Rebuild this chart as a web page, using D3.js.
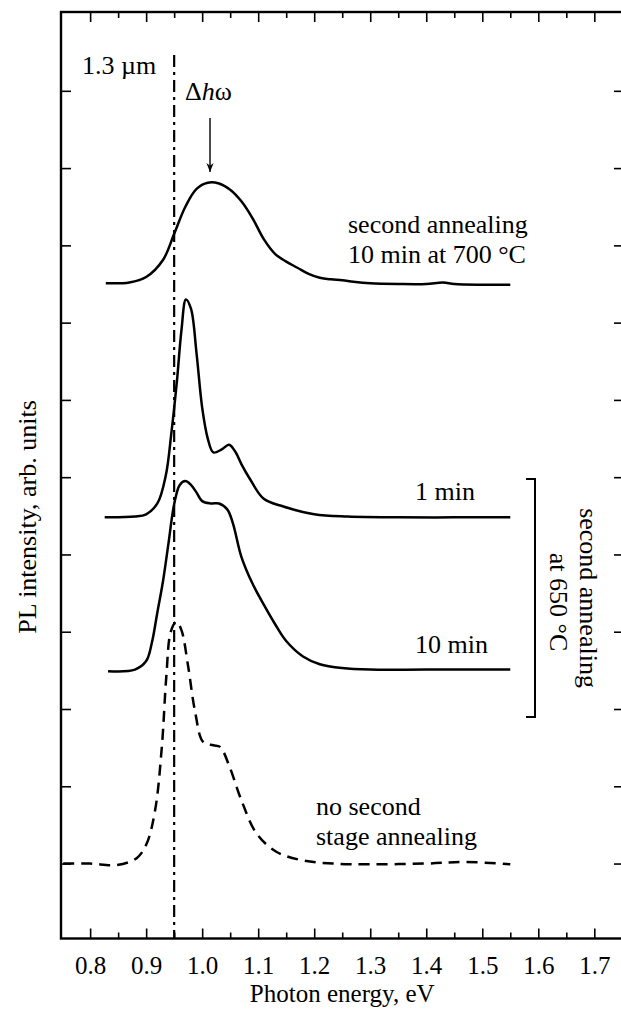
<!DOCTYPE html>
<html>
<head>
<meta charset="utf-8">
<script src="https://cdn.jsdelivr.net/npm/d3@7"></script>
<style>
  body { margin: 0; background: #fff; }
  svg { display: block; }
  text { font-family: "Liberation Serif", "Times New Roman", serif; fill: #000; }
</style>
</head>
<body>
<div id="chart"></div>
<script>
// photon energy (eV) / PL intensity (arb. units, curves are offset by the chart itself)
const anneal700E = [0.828, 0.87, 0.90, 0.93, 0.95, 0.97, 0.99, 1.01, 1.03, 1.05, 1.07, 1.09, 1.11, 1.13, 1.15, 1.17, 1.19, 1.21, 1.23, 1.25, 1.27, 1.30, 1.35, 1.40, 1.43, 1.45, 1.50, 1.55];
const anneal700I = [8.51, 8.52, 8.59, 8.81, 9.15, 9.50, 9.73, 9.81, 9.80, 9.72, 9.57, 9.35, 9.08, 8.89, 8.79, 8.71, 8.63, 8.58, 8.56, 8.55, 8.53, 8.51, 8.50, 8.50, 8.52, 8.50, 8.49, 8.49];

const oneMinE = [0.826, 0.88, 0.90, 0.92, 0.935, 0.945, 0.955, 0.963, 0.971, 0.98, 0.99, 1.00, 1.01, 1.02, 1.035, 1.048, 1.06, 1.07, 1.085, 1.11, 1.145, 1.20, 1.26, 1.35, 1.45, 1.55];
const oneMinI = [5.48, 5.49, 5.52, 5.66, 6.02, 6.57, 7.25, 7.90, 8.30, 8.18, 7.60, 6.90, 6.50, 6.32, 6.36, 6.42, 6.32, 6.17, 5.98, 5.72, 5.62, 5.52, 5.49, 5.48, 5.48, 5.48];

const tenMinE = [0.832, 0.88, 0.90, 0.91, 0.92, 0.93, 0.94, 0.95, 0.96, 0.97, 0.98, 0.99, 1.00, 1.015, 1.03, 1.045, 1.055, 1.07, 1.09, 1.11, 1.13, 1.15, 1.18, 1.21, 1.25, 1.30, 1.40, 1.55];
const tenMinI = [3.49, 3.51, 3.62, 3.85, 4.25, 4.65, 5.15, 5.65, 5.90, 5.95, 5.90, 5.80, 5.69, 5.66, 5.66, 5.58, 5.40, 4.97, 4.62, 4.35, 4.10, 3.88, 3.68, 3.58, 3.53, 3.51, 3.51, 3.51];

const noSecondE = [0.752, 0.80, 0.847, 0.883, 0.901, 0.916, 0.928, 0.936, 0.944, 0.954, 0.963, 0.975, 0.987, 1.002, 1.02, 1.032, 1.049, 1.07, 1.097, 1.133, 1.18, 1.234, 1.30, 1.40, 1.47, 1.55];
const noSecondI = [1.00, 1.00, 0.98, 1.07, 1.26, 1.69, 2.51, 3.42, 4.00, 4.13, 4.02, 3.55, 2.98, 2.57, 2.53, 2.51, 2.25, 1.82, 1.39, 1.15, 1.04, 1.00, 0.99, 1.00, 1.02, 0.99];

const xTicks = [0.8, 0.9, 1.0, 1.1, 1.2, 1.3, 1.4, 1.5, 1.6, 1.7];
const xMinorTicks = [0.85, 0.95, 1.05, 1.15, 1.25, 1.35, 1.45, 1.55, 1.65];
const yTicks = [1, 2, 3, 4, 5, 6, 7, 8, 9, 10, 11];
const lineEnergy = 0.95; // 1.3 um

const width = 621, height = 1011;
const frame = { left: 61, right: 624, top: 12, bottom: 938.5 };

const x = d3.scaleLinear().domain([0.748, 1.753]).range([frame.left, frame.right]);
const y = d3.scaleLinear().domain([0.03, 12.02]).range([frame.bottom, frame.top]);

const svg = d3.select('#chart').append('svg')
  .attr('width', width)
  .attr('height', height);

// axes, ticks pointing inward
const tickStyle = g => {
  g.select('.domain').remove();
  g.selectAll('line').attr('stroke', '#000').attr('stroke-width', 1.6);
};

svg.append('g')
  .attr('transform', `translate(0,${frame.bottom})`)
  .call(d3.axisBottom(x).tickValues(xTicks).tickSizeInner(-10).tickSizeOuter(0).tickPadding(18).tickFormat(d3.format('.1f')))
  .call(tickStyle)
  .call(g => g.selectAll('text').attr('font-size', 25).attr('dy', '0.71em'));

svg.append('g')
  .attr('transform', `translate(0,${frame.bottom})`)
  .call(d3.axisBottom(x).tickValues(xMinorTicks).tickSizeInner(-6).tickSizeOuter(0).tickFormat(''))
  .call(tickStyle);

svg.append('g')
  .attr('transform', `translate(0,${frame.top})`)
  .call(d3.axisTop(x).tickValues(xTicks).tickSizeInner(-10).tickSizeOuter(0).tickFormat(''))
  .call(tickStyle);

svg.append('g')
  .attr('transform', `translate(0,${frame.top})`)
  .call(d3.axisTop(x).tickValues(xMinorTicks).tickSizeInner(-6).tickSizeOuter(0).tickFormat(''))
  .call(tickStyle);

svg.append('g')
  .attr('transform', `translate(${frame.left},0)`)
  .call(d3.axisLeft(y).tickValues(yTicks).tickSizeInner(-10).tickSizeOuter(0).tickFormat(''))
  .call(tickStyle);

svg.append('g')
  .attr('transform', `translate(${frame.right},0)`)
  .call(d3.axisRight(y).tickValues(yTicks).tickSizeInner(-10).tickSizeOuter(0).tickFormat(''))
  .call(tickStyle);

// frame
svg.append('rect')
  .attr('x', frame.left)
  .attr('y', frame.top)
  .attr('width', frame.right - frame.left)
  .attr('height', frame.bottom - frame.top)
  .attr('fill', 'none')
  .attr('stroke', '#000')
  .attr('stroke-width', 2.4);

// 1.3 um marker
svg.append('line')
  .attr('x1', x(lineEnergy)).attr('x2', x(lineEnergy))
  .attr('y1', 55).attr('y2', frame.bottom)
  .attr('stroke', '#000')
  .attr('stroke-width', 2.2)
  .attr('stroke-dasharray', '12,5,3,5');

// spectra
const line = d3.line()
  .x(d => x(d[0]))
  .y(d => y(d[1]))
  .curve(d3.curveCatmullRom.alpha(0.5));

const series = [
  { e: anneal700E, i: anneal700I, dash: null },
  { e: oneMinE, i: oneMinI, dash: null },
  { e: tenMinE, i: tenMinI, dash: null },
  { e: noSecondE, i: noSecondI, dash: '11,7' }
];

svg.selectAll('path.spectrum')
  .data(series)
  .join('path')
  .attr('class', 'spectrum')
  .attr('d', s => line(s.e.map((e, k) => [e, s.i[k]])))
  .attr('fill', 'none')
  .attr('stroke', '#000')
  .attr('stroke-width', 2.5)
  .attr('stroke-dasharray', s => s.dash);

// arrow for peak shift
svg.append('defs').append('marker')
  .attr('id', 'arrowhead')
  .attr('viewBox', '0 0 10 10')
  .attr('refX', 10).attr('refY', 5)
  .attr('markerWidth', 9).attr('markerHeight', 9)
  .attr('markerUnits', 'userSpaceOnUse')
  .attr('orient', 'auto')
  .append('path')
  .attr('d', 'M0,1 L10,5 L0,9 L3,5 Z')
  .attr('fill', '#000');

svg.append('line')
  .attr('x1', x(1.014)).attr('x2', x(1.014))
  .attr('y1', 118).attr('y2', 172)
  .attr('stroke', '#000')
  .attr('stroke-width', 1.4)
  .attr('marker-end', 'url(#arrowhead)');

// annotations
const fs = 26;
const label = (tx, ty, str) => svg.append('text')
  .attr('x', tx).attr('y', ty)
  .attr('font-size', fs)
  .text(str);

label(82, 74, '1.3 \u00b5m');
const dh = svg.append('text').attr('x', 185).attr('y', 100).attr('font-size', fs);
dh.append('tspan').text('\u0394');
dh.append('tspan').attr('font-style', 'italic').text('h');
dh.append('tspan').text('\u03c9');

label(348, 233, 'second annealing');
label(348, 263, '10 min at 700 \u00b0C');
label(415, 500, '1 min');
label(415, 653, '10 min');
label(316, 815, 'no second');
label(316, 845, 'stage annealing');

// bracket for 650 C series
svg.append('path')
  .attr('d', 'M526,479 H535 V717 H526')
  .attr('fill', 'none')
  .attr('stroke', '#000')
  .attr('stroke-width', 2);

const rot = svg.append('g')
  .attr('transform', 'translate(580,598) rotate(90)')
  .attr('font-size', fs)
  .attr('text-anchor', 'middle');
rot.append('text').attr('x', 0).attr('y', 0).text('second annealing');
rot.append('text').attr('x', 4).attr('y', 30).text('at 650 \u00b0C');

// axis titles
svg.append('text')
  .attr('x', x(1.25))
  .attr('y', 1002)
  .attr('text-anchor', 'middle')
  .attr('font-size', 25)
  .text('Photon energy, eV');

svg.append('text')
  .attr('transform', 'translate(36,517) rotate(-90)')
  .attr('text-anchor', 'middle')
  .attr('font-size', 26)
  .text('PL intensity, arb. units');
</script>
</body>
</html>
